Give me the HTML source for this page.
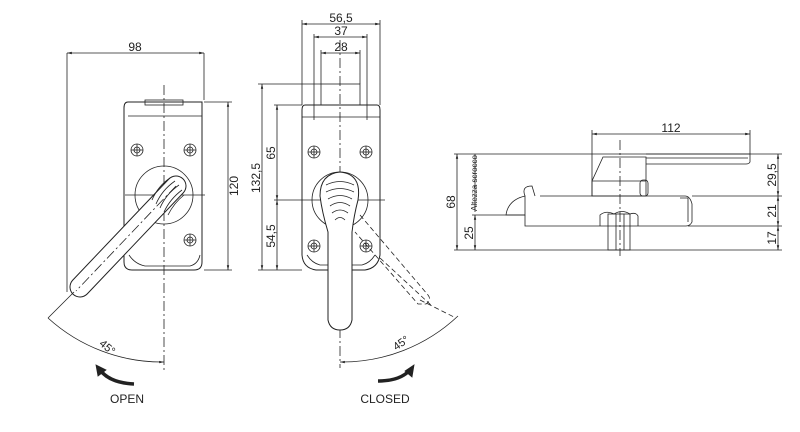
<!DOCTYPE html>
<html><head><meta charset="utf-8"><style>
html,body{margin:0;padding:0;background:#fff}
svg{display:block}
text{font-family:"Liberation Sans",sans-serif;fill:#222}
</style></head><body>
<svg width="800" height="432" viewBox="0 0 800 432" xmlns="http://www.w3.org/2000/svg">
<defs>
<marker id="a" markerWidth="6" markerHeight="6" refX="6" refY="3" orient="auto-start-reverse"><path d="M0,1.5 L6,3 L0,4.5z" fill="#222"/></marker>
</defs>
<g stroke="#222" fill="none" stroke-width="0.8">
<!-- LEFT VIEW -->
<line x1="67" y1="53" x2="67" y2="292"/>
<line x1="204" y1="53" x2="204" y2="100"/>
<line x1="67" y1="53" x2="204" y2="53" marker-start="url(#a)" marker-end="url(#a)"/>
<path d="M128,102 H202 V262 Q202,270 194,270 H132 Q124,270 124,262 V108 Q124,102 128,102Z" stroke-width="1"/>
<path d="M128,116 H202" />
<path d="M129,255 Q135,264 145,266 H190 Q198,264 200,255" />
<rect x="145" y="100" width="38" height="5"/>
<line x1="204" y1="102" x2="232" y2="102"/><line x1="204" y1="270" x2="232" y2="270"/>
<line x1="228" y1="102" x2="228" y2="270" marker-start="url(#a)" marker-end="url(#a)"/>
<line x1="164" y1="85" x2="164" y2="372" stroke-dasharray="10,3,2,3"/>
<line x1="125" y1="195" x2="205" y2="195"/>
<g><circle cx="137" cy="150" r="6"/><circle cx="137" cy="150" r="3"/><line x1="131" y1="150" x2="143" y2="150"/><line x1="137" y1="144" x2="137" y2="156"/></g>
<g><circle cx="190" cy="150" r="6"/><circle cx="190" cy="150" r="3"/><line x1="184" y1="150" x2="196" y2="150"/><line x1="190" y1="144" x2="190" y2="156"/></g>
<g><circle cx="190" cy="240" r="6"/><circle cx="190" cy="240" r="3"/><line x1="184" y1="240" x2="196" y2="240"/><line x1="190" y1="234" x2="190" y2="246"/></g>
<circle cx="164" cy="195" r="29"/>
<line x1="176" y1="186" x2="80" y2="287" stroke="#222" stroke-width="21" stroke-linecap="round"/>
<line x1="176" y1="186" x2="80" y2="287" stroke="#fff" stroke-width="19" stroke-linecap="round"/>
<line x1="176" y1="186" x2="76" y2="291" stroke-dasharray="10,3,2,3"/>
<path d="M170,178 Q158,186 152,200 M175,181 Q162,190 156,204 M179,185 Q166,194 160,208 M182,190 Q170,199 164,212 M184,195 Q174,203 168,215"/>
<line x1="74" y1="292" x2="48" y2="318"/>
<path d="M48,318 A169,169 0 0 0 164,362" marker-end="url(#a)"/>
<path d="M134,384 Q110,383 100,370" stroke-width="3.5"/>
<path d="M96,365 L106,370 L98,376Z" fill="#222"/>
<!-- MIDDLE VIEW -->
<line x1="302" y1="20" x2="302" y2="105"/><line x1="380" y1="20" x2="380" y2="105"/>
<line x1="302" y1="24" x2="380" y2="24" marker-start="url(#a)" marker-end="url(#a)"/>
<line x1="314" y1="34" x2="314" y2="120"/><line x1="367" y1="34" x2="367" y2="120"/>
<line x1="314" y1="37" x2="367" y2="37" marker-start="url(#a)" marker-end="url(#a)"/>
<line x1="321" y1="50" x2="321" y2="84"/><line x1="360" y1="50" x2="360" y2="84"/>
<line x1="321" y1="53" x2="360" y2="53" marker-start="url(#a)" marker-end="url(#a)"/>
<rect x="321" y="84" width="39" height="21"/>
<path d="M305,105 H377 Q380,105 380,110 V255 Q378,268 365,270 H316 Q303,268 302,255 V110 Q302,105 305,105Z" stroke-width="1"/>
<path d="M302,117 H380 M307,255 Q312,263 320,265 H362 Q370,263 375,255"/>
<line x1="340" y1="40" x2="340" y2="368" stroke-dasharray="10,3,2,3"/>
<line x1="258" y1="84" x2="321" y2="84"/><line x1="262" y1="84" x2="262" y2="270" marker-start="url(#a)" marker-end="url(#a)"/>
<line x1="274" y1="105" x2="302" y2="105"/><line x1="258" y1="270" x2="302" y2="270"/>
<line x1="277" y1="105" x2="277" y2="200" marker-start="url(#a)" marker-end="url(#a)"/>
<line x1="277" y1="200" x2="277" y2="270" marker-start="url(#a)" marker-end="url(#a)"/>
<line x1="274" y1="200" x2="385" y2="200"/>
<g><circle cx="314" cy="152" r="6"/><circle cx="314" cy="152" r="3"/><line x1="308" y1="152" x2="320" y2="152"/><line x1="314" y1="146" x2="314" y2="158"/></g>
<g><circle cx="366" cy="152" r="6"/><circle cx="366" cy="152" r="3"/><line x1="360" y1="152" x2="372" y2="152"/><line x1="366" y1="146" x2="366" y2="158"/></g>
<g><circle cx="314" cy="246" r="6"/><circle cx="314" cy="246" r="3"/><line x1="308" y1="246" x2="320" y2="246"/><line x1="314" y1="240" x2="314" y2="252"/></g>
<g><circle cx="366" cy="246" r="6"/><circle cx="366" cy="246" r="3"/><line x1="360" y1="246" x2="372" y2="246"/><line x1="366" y1="240" x2="366" y2="252"/></g>
<circle cx="340" cy="200" r="28"/>
<path d="M340,172 Q362,174 358,200 Q354,215 352,232 L352,320 Q350,330 340,330 Q330,330 328,320 L328,232 Q322,212 320,196 Q320,174 340,172Z" fill="#fff" stroke-width="1"/>
<path d="M326,185 Q340,178 354,185 M326,192 Q340,185 354,192 M328,199 Q340,192 352,199 M330,206 Q340,199 350,206 M332,213 Q340,207 348,213 M335,220 Q340,215 345,220"/>
<g stroke-dasharray="5,3">
<path d="M360,215 L428,295 Q432,300 426,304 L418,304 L355,232"/>
<path d="M380,258 L432,306"/>
</g>
<line x1="420" y1="300" x2="456" y2="318" stroke-dasharray="5,3"/>
<path d="M340,362 A169,169 0 0 0 458,316" marker-start="url(#a)"/>
<path d="M378,381 Q400,381 410,370" stroke-width="3.5"/>
<path d="M414,365 L412,377 L405,371Z" fill="#222"/>
<!-- RIGHT VIEW -->
<line x1="592" y1="130" x2="592" y2="196"/><line x1="750" y1="130" x2="750" y2="154"/>
<line x1="592" y1="134" x2="750" y2="134" marker-start="url(#a)" marker-end="url(#a)"/>
<line x1="454" y1="154" x2="782" y2="154"/>
<path d="M646,154 H750 V162 Q749,164 746,164 H646"/>
<line x1="646" y1="158" x2="748" y2="158"/>
<path d="M603,157 H646 V196 H592 V181 Z"/>
<line x1="592" y1="181" x2="646" y2="181"/>
<rect x="640" y="180" width="8" height="16" rx="3"/>
<path d="M540,196 H685 Q690,196 692,204 V222 Q690,226 686,226 H525 V215"/>
<path d="M525,196 Q521,186 532,186 L535,196"/>
<path d="M506,215 Q508,200 525,196 V215 Z"/>
<path d="M680,198 L688,198 L688,222"/>
<path d="M600,226 V215 Q606,210 614,214 Q622,209 630,214 Q636,212 638,216 V226"/>
<rect x="608" y="214" width="22" height="36"/>
<line x1="616" y1="214" x2="616" y2="250"/><line x1="624" y1="214" x2="624" y2="250"/>
<line x1="620" y1="140" x2="620" y2="256" stroke-dasharray="10,3,2,3"/>
<line x1="454" y1="250" x2="782" y2="250"/>
<line x1="472" y1="215" x2="525" y2="215"/>
<line x1="692" y1="196" x2="782" y2="196"/><line x1="688" y1="226" x2="782" y2="226"/>
<line x1="457" y1="154" x2="457" y2="250" marker-start="url(#a)" marker-end="url(#a)"/>
<line x1="475" y1="215" x2="475" y2="250" marker-start="url(#a)" marker-end="url(#a)"/>
<line x1="475" y1="154" x2="475" y2="212"/>
<line x1="778" y1="154" x2="778" y2="196" marker-start="url(#a)" marker-end="url(#a)"/>
<line x1="778" y1="196" x2="778" y2="226" marker-start="url(#a)" marker-end="url(#a)"/>
<line x1="778" y1="226" x2="778" y2="250" marker-start="url(#a)" marker-end="url(#a)"/>
</g>
<!-- TEXT -->
<g font-size="12">
<text x="135" y="51" text-anchor="middle">98</text>
<text transform="translate(238,186) rotate(-90)" text-anchor="middle">120</text>
<text transform="translate(105,350) rotate(40)" text-anchor="middle" font-size="11">45°</text>
<text x="127" y="403" text-anchor="middle">OPEN</text>
<text x="341" y="22" text-anchor="middle">56,5</text>
<text x="341" y="35" text-anchor="middle">37</text>
<text x="341" y="51" text-anchor="middle">28</text>
<text transform="translate(260,178) rotate(-90)" text-anchor="middle">132,5</text>
<text transform="translate(275,153) rotate(-90)" text-anchor="middle">65</text>
<text transform="translate(275,236) rotate(-90)" text-anchor="middle">54,5</text>
<text transform="translate(403,346) rotate(-35)" text-anchor="middle" font-size="11">45°</text>
<text x="385" y="403" text-anchor="middle">CLOSED</text>
<text x="671" y="132" text-anchor="middle">112</text>
<text transform="translate(455,202) rotate(-90)" text-anchor="middle">68</text>
<text transform="translate(473,233) rotate(-90)" text-anchor="middle">25</text>
<text transform="translate(477,183) rotate(-90)" text-anchor="middle" font-size="8">Altezza scrocco</text>
<text transform="translate(776,175) rotate(-90)" text-anchor="middle">29,5</text>
<text transform="translate(776,211) rotate(-90)" text-anchor="middle">21</text>
<text transform="translate(776,238) rotate(-90)" text-anchor="middle">17</text>
</g>
</svg>
</body></html>
